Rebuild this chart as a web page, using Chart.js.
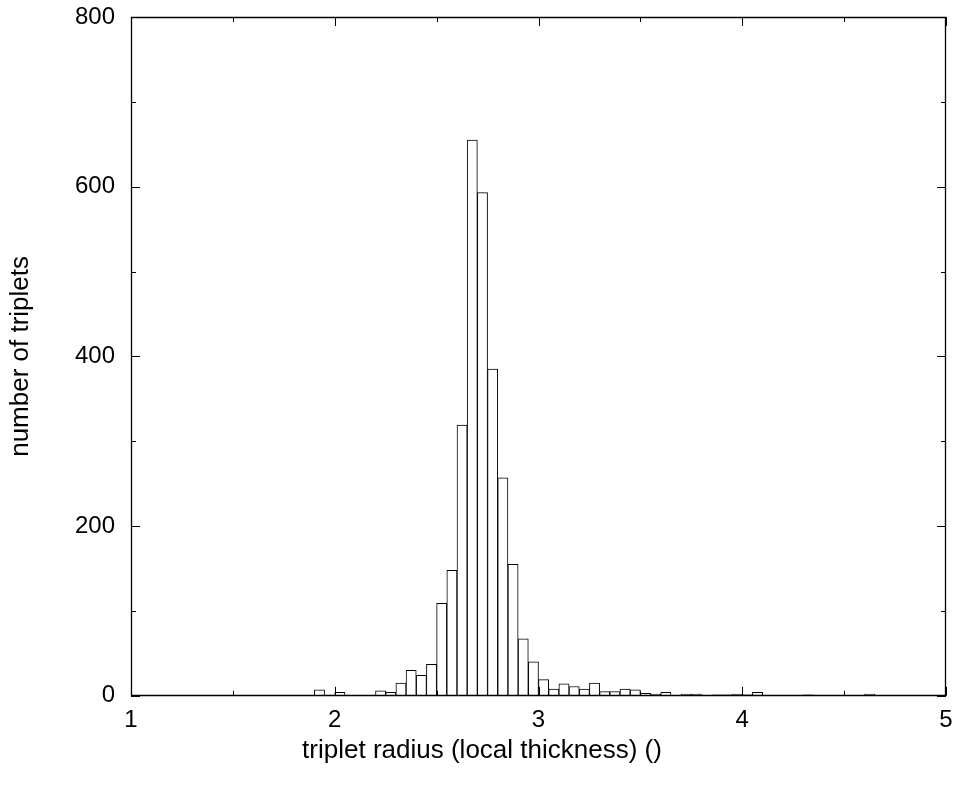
<!DOCTYPE html>
<html>
<head>
<meta charset="utf-8">
<script src="https://cdn.jsdelivr.net/npm/chart.js@4.4.1/dist/chart.umd.min.js"></script>
<style>
html,body{margin:0;padding:0;background:#fff;}
#wrap{width:957px;height:786px;position:relative;}
</style>
</head>
<body>
<div id="wrap"><canvas id="c"></canvas></div>
<script>
// Histogram bins: width 0.05, from 1.00 to 5.00 (bin centres)
const binStart = 1.0;
const binWidth = 0.05;
const counts = [
  0,0,0,0,0,0,0,0,0,0,      // 1.00 - 1.50
  0,0,0,0,0,0,0,0,7,0,      // 1.50 - 2.00
  4,0,0,0,6,4,15,30,24,37,  // 2.00 - 2.50
  109,148,319,655,593,385,257,155,67,40, // 2.50 - 3.00
  19,8,14,11,8,15,5,5,8,7,  // 3.00 - 3.50
  3,2,4,0,2,2,0,1,1,2,      // 3.50 - 4.00
  1,4,0,0,0,0,1,0,0,0,      // 4.00 - 4.50
  0,0,2,0,0,0,0,0,0,0       // 4.50 - 5.00
];
const binCenters = counts.map((_, i) => +(binStart + binWidth * (i + 0.5)).toFixed(3));
const xTicks = [1, 2, 3, 4, 5];
const yTicks = [0, 200, 400, 600, 800];
const xTitle = 'triplet radius (local thickness) ()';
const yTitle = 'number of triplets';

const FONT = '"Liberation Sans", Arial, Helvetica, sans-serif';

const framePlugin = {
  id: 'frameTicks',
  afterDatasetsDraw(chart) {
    const {ctx, chartArea: a, scales: {x, y}} = chart;
    ctx.save();
    ctx.strokeStyle = '#000';
    ctx.lineWidth = 1.3;
    ctx.beginPath();
    ctx.rect(Math.round(a.left) + 0.5, Math.round(a.top) + 0.5,
             Math.round(a.right - a.left) - 1, Math.round(a.bottom - a.top) - 1);
    ctx.stroke();
    ctx.lineWidth = 1;
    ctx.beginPath();
    for (let v = 1; v <= 5.0001; v += 0.5) {
      const px = Math.round(x.getPixelForValue(v)) + 0.5;
      const len = Math.abs(v - Math.round(v)) < 1e-6 ? 9 : 5;
      ctx.moveTo(px, a.bottom); ctx.lineTo(px, a.bottom - len);
      ctx.moveTo(px, a.top); ctx.lineTo(px, a.top + len);
    }
    for (let v = 0; v <= 800; v += 100) {
      const py = Math.round(y.getPixelForValue(v)) + 0.5;
      const len = v % 200 === 0 ? 9 : 5;
      ctx.moveTo(a.left, py); ctx.lineTo(a.left + len, py);
      ctx.moveTo(a.right, py); ctx.lineTo(a.right - len, py);
    }
    ctx.stroke();
    ctx.restore();
  }
};

new Chart(document.getElementById('c'), {
  type: 'bar',
  data: {
    datasets: [{
      data: binCenters.map((c, i) => ({x: c, y: counts[i]})),
      backgroundColor: '#ffffff',
      borderColor: '#000000',
      borderWidth: 1,
      barPercentage: 1.0,
      categoryPercentage: 1.0
    }]
  },
  options: {
    responsive: true,
    maintainAspectRatio: false,
    animation: false,
    events: [],
    layout: {padding: {top: 17, right: 11, left: 18, bottom: 0}},
    plugins: {
      legend: {display: false},
      tooltip: {enabled: false},
      title: {display: true, position: 'bottom', text: xTitle, color: '#000',
              font: {family: FONT, size: 26, weight: 'normal'},
              padding: {top: 0, bottom: 20}}
    },
    scales: {
      x: {
        type: 'linear', min: 1, max: 5, offset: false,
        grid: {display: false, drawTicks: false, offset: false},
        border: {display: false},
        afterBuildTicks: (s) => { s.ticks = xTicks.map(v => ({value: v})); },
        afterFit: (s) => { s.height = 39; s.paddingLeft = 0; s.paddingRight = 0; },
        ticks: {
          autoSkip: false, maxRotation: 0, padding: 10, color: '#000',
          font: {family: FONT, size: 24},
          callback: (v) => String(v)
        }
      },
      y: {
        type: 'linear', min: 0, max: 800,
        grid: {display: false, drawTicks: false},
        border: {display: false},
        afterBuildTicks: (s) => { s.ticks = yTicks.map(v => ({value: v})); },
        afterFit: (s) => { s.width = 113; s.paddingTop = 0; s.paddingBottom = 0; },
        ticks: {
          autoSkip: false, padding: 16, color: '#000',
          font: {family: FONT, size: 24},
          callback: (v) => String(v)
        },
        title: {display: true, text: yTitle, color: '#000',
                font: {family: FONT, size: 26}, padding: {top: -13, bottom: 0}}
      }
    }
  },
  plugins: [framePlugin]
});
</script>
</body>
</html>
